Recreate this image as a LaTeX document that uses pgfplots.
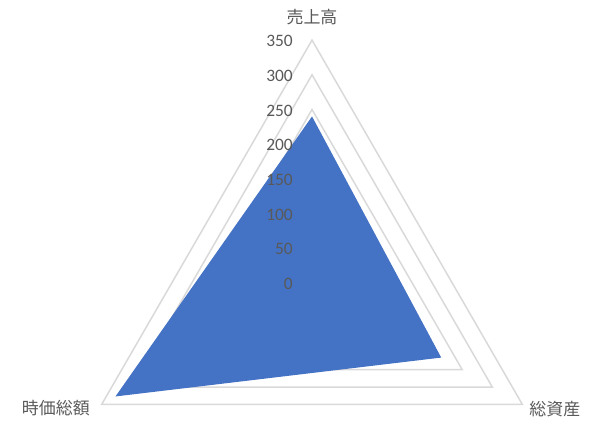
\documentclass[border=0pt]{standalone}
\usepackage{fontspec}
\setmainfont{Carlito}
\newfontfamily\jp{Noto Sans CJK JP}
\usepackage{pgfplots}
\pgfplotsset{compat=1.18}
\definecolor{fillblue}{HTML}{4472C4}
\definecolor{gridgray}{HTML}{D9D9D9}
\definecolor{txtgray}{HTML}{595959}
\begin{document}
\begin{tikzpicture}
\begin{axis}[
  scale only axis, width=610bp, height=424bp,
  xmin=-449.6, xmax=429.4, ymin=-203.2, ymax=407.8,
  hide axis, clip=false,
]
% grid triangles
\pgfplotsinvokeforeach{50,100,150,200,250,300,350}{
  \addplot[data cs=polar, draw=gridgray, line width=1.5bp, mark=none]
    coordinates {(90,#1) (210,#1) (330,#1) (90,#1) (210,#1)};
}
% data
\addplot[data cs=polar, fill=fillblue, draw=none, mark=none]
  coordinates {(90,240) (330,215) (210,327)} -- cycle;
% radial tick labels
\addplot[data cs=polar, only marks, mark=none,
  nodes near coords, point meta=explicit symbolic,
  nodes near coords style={anchor=east, xshift=-19bp, yshift=-1bp, text=txtgray,
    font=\fontsize{17.5}{19}\selectfont, inner sep=0pt}]
  coordinates {(90,0)[0] (90,50)[50] (90,100)[100] (90,150)[150]
               (90,200)[200] (90,250)[250] (90,300)[300] (90,350)[350]};
% category labels
\node[anchor=south, text=txtgray, font=\jp\fontsize{17}{20}\selectfont, inner sep=0pt]
  at (axis cs:0,372) {売上高};
\node[anchor=east, text=txtgray, font=\jp\fontsize{17}{20}\selectfont, inner sep=0pt]
  at (axis cs:-320,-180) {時価総額};
\node[anchor=west, text=txtgray, font=\jp\fontsize{17}{20}\selectfont, inner sep=0pt]
  at (axis cs:313,-181) {総資産};
\end{axis}
\pgfresetboundingbox
\path[use as bounding box] (current axis.south west) rectangle (current axis.north east);
\end{tikzpicture}
\end{document}
